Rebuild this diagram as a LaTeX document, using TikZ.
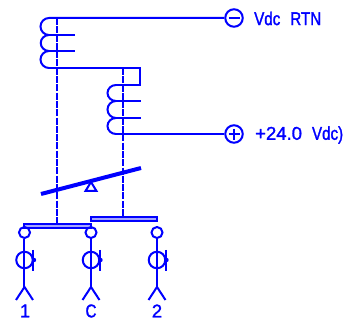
\documentclass[tikz,border=0pt]{standalone}
\usepackage{fontspec}
\setmainfont{Liberation Sans}
\newfontfamily\cadnarrow[FakeStretch=0.82,FakeBold=1.4]{Liberation Sans}
\newfontfamily\cadwide[FakeBold=1.4]{Liberation Sans}
\usetikzlibrary{calc}
\definecolor{relayblue}{RGB}{0,0,255}
\tikzset{
	wire/.style={draw=relayblue, line width=2pt},
	link/.style={draw=relayblue, line width=2pt, dash pattern=on 7pt off 1.3pt},
	term/.style={circle, draw=relayblue, line width=2pt, minimum size=17.5pt, inner sep=0pt},
	pin/.style={circle, draw=relayblue, line width=2pt, minimum size=11pt, inner sep=0pt},
	coilring/.style={circle, draw=relayblue, line width=2pt, minimum size=16.5pt, inner sep=0pt},
	lbl/.style={text=relayblue, font=\fontsize{18.5}{18.5}\selectfont, inner sep=0pt}
}
\begin{document}
\begin{tikzpicture}[x=1pt, y=-1pt]

		\useasboundingbox (0,0) rectangle (360,326);

		% terminals
		\node[term] (rtn) at (234,18) {};
		\node[term] (pos) at (234,134) {};
		\node[lbl, anchor=west] (rtnlabel) at (254,18.5) {\cadnarrow Vdc\hspace{10pt}RTN};
		\node[lbl, anchor=west] (poslabel) at (255,135) {\cadwide +24.0\hspace{10pt}\cadnarrow Vdc)};
		\draw [wire] (229,18) -- (240,18);
		\draw [wire] (229,134) -- (240,134);
		\draw [wire] (234.5,129) -- (234.5,140);

		% upper coil
		\coordinate (topa) at (49,18);
		\coordinate (topb) at (49,35);
		\coordinate (topc) at (49,51);
		\coordinate (topd) at (49,68);
		\coordinate (tapa) at (75,35);
		\coordinate (tapb) at (75,51);
		\coordinate (bend) at (140.5,68);
		\draw [wire] (rtn) -- (topa) arc (90:270:8.5 and -8.5) -- (topb);
		\draw [wire] (topb) arc (90:270:8.25 and -8) (topc) arc (90:270:8.5 and -8.5);
		\draw [wire] (topb) -- (tapa);
		\draw [wire] (topc) -- (tapb);

		% lower coil
		\coordinate (lowa) at (116,85);
		\coordinate (lowb) at (116,101);
		\coordinate (lowc) at (116,118);
		\coordinate (lowd) at (116,134);
		\coordinate (tapc) at (141,101);
		\coordinate (tapd) at (141,118);
		\draw [wire] (topd) -- (bend) -- (bend |- lowa) -- (lowa);
		\draw [wire] (lowa) arc (90:270:8.5 and -8) (lowb) arc (90:270:8.5 and -8.5) (lowc) arc (90:270:8.5 and -8);
		\draw [wire] (lowb) -- (tapc);
		\draw [wire] (lowc) -- (tapd);
		\draw [wire] (lowd) -- (pos);

		% lever
		\coordinate (levera) at (41,194);
		\coordinate (leverb) at (141,168);
		\draw [relayblue, line width=4pt] (levera) -- (leverb);
		\draw [wire] (91,182) -- (85.5,191) -- (96.5,191) -- cycle;

		% actuator links
		\coordinate (linka) at (57.5,18);
		\coordinate (linkb) at (57.5,224);
		\coordinate (linkc) at (123.5,68);
		\coordinate (linkd) at (123.5,217);
		\draw [link] (linka) -- (linkb);
		\draw [link] (linkc) -- (linkd);

		% contact bars
		\draw [wire, fill=relayblue!35] (24.5,224) rectangle (91,228);
		\draw [wire, fill=relayblue!35] (91,217) rectangle (157.5,221);

		% contacts
		\node[pin] (pina) at (24.5,232.5) {};
		\node[pin] (pinb) at (91,232.5) {};
		\node[pin] (pinc) at (157,232.5) {};
		\node[coilring] (ringa) at (24.5,260) {};
		\node[coilring] (ringb) at (91,260) {};
		\node[coilring] (ringc) at (157,260) {};
		\coordinate (forka) at (24.5,287);
		\coordinate (forkb) at (91,287);
		\coordinate (forkc) at (157,287);
		\draw [wire] (pina) -- (forka);
		\draw [wire] (pinb) -- (forkb);
		\draw [wire] (pinc) -- (forkc);
		\draw [wire] (16,300) -- (forka) -- (33,300);
		\draw [wire] (82.5,300) -- (forkb) -- (99.5,300);
		\draw [wire] (148.5,300) -- (forkc) -- (165.5,300);
		\draw [wire] (33.5,250) -- (33.5,271);
		\draw [wire] (100,250) -- (100,271);
		\draw [wire] (166,250) -- (166,271);
		\fill [relayblue] (34,260) circle (2.2);
		\fill [relayblue] (100.5,260) circle (2.2);
		\fill [relayblue] (166.5,260) circle (2.2);

		% contact labels
		\node[lbl] (labela) at (25,311) {\cadwide 1};
		\node[lbl] (labelb) at (91,311) {\cadnarrow C};
		\node[lbl] (labelc) at (157,311) {\cadwide 2};

	\end{tikzpicture}
\end{document}
